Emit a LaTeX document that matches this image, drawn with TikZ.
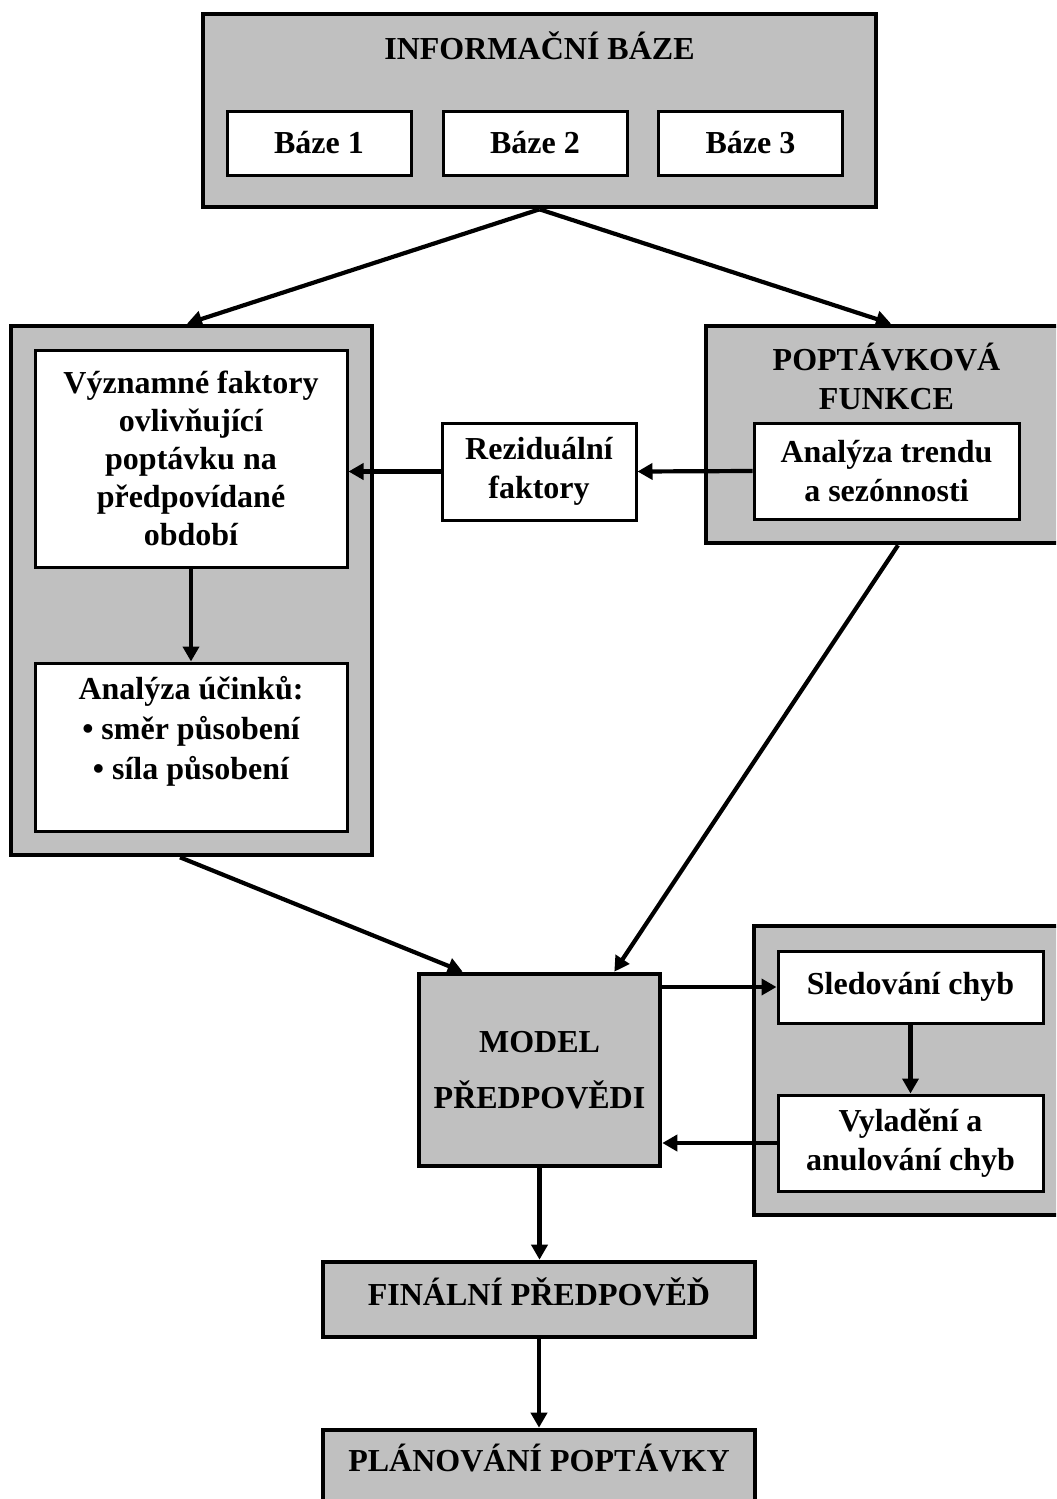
\documentclass[tikz,border=0pt]{standalone}
\usepackage{fontspec}
\setmainfont{Liberation Serif}
\usetikzlibrary{arrows.meta,calc}

\definecolor{boxgray}{HTML}{C0C0C0}

\begin{document}
\begin{tikzpicture}[x=0.5pt,y=-0.5pt,
  every node/.style={font=\bfseries\fontsize{16}{19}\selectfont, align=center, inner sep=0pt},
  graybox/.style={draw, fill=boxgray, line width=2.3pt},
  whitebox/.style={draw, fill=white, line width=1.5pt},
  label/.style={},
  arr/.style={line width=2.1pt, -{Triangle[length=7.5pt,width=8pt]}}
]
\useasboundingbox (0,0) rectangle (1056,1499);
\clip (0,0) rectangle (1056,1499);

% Information base with its three sources
\node[graybox, minimum width=336.5pt, minimum height=96.5pt] (info) at (539.5,110.5) {};
\node[label] (infotitle) at (539.5,46) {INFORMAČNÍ BÁZE};
\node[whitebox, minimum width=92pt, minimum height=32pt] (b1) at (319,143) {Báze 1};
\node[whitebox, minimum width=92pt, minimum height=32pt] (b2) at (535,143) {Báze 2};
\node[whitebox, minimum width=92pt, minimum height=32pt] (b3) at (750.5,143) {Báze 3};

% Factor analysis block
\node[graybox, minimum width=180.5pt, minimum height=264.5pt] (fac) at (191.5,590.5) {};
\node[whitebox, minimum width=156pt, minimum height=108.5pt] (vyz) at (191,458.5)
  {Významné faktory\\ovlivňující\\poptávku na\\předpovídané\\období};
\node[whitebox, minimum width=156pt, minimum height=84pt] (ucin) at (191,747) {};
\node[label, anchor=north, font=\bfseries\fontsize{16}{20}\selectfont] (ucintext) at (191,676)
  {Analýza účinků:\\• směr působení\\• síla působení};

% Residual factors
\node[whitebox, minimum width=97pt, minimum height=48.5pt,
      font=\bfseries\fontsize{16}{19.5}\selectfont] (rez) at (539,471.5)
  {Reziduální\\faktory};

% Demand function block
\node[graybox, minimum width=197pt, minimum height=108.5pt] (pop) at (903,434.5) {};
\node[label, font=\bfseries\fontsize{16}{19.5}\selectfont] (poptitle) at (886.5,376)
  {POPTÁVKOVÁ\\FUNKCE};
\node[whitebox, minimum width=132.5pt, minimum height=48pt,
      font=\bfseries\fontsize{16}{19.5}\selectfont] (trend) at (886.5,471)
  {Analýza trendu\\a sezónnosti};

% Forecast model
\node[graybox, minimum width=120.5pt, minimum height=96pt,
      font=\bfseries\fontsize{16}{28}\selectfont] (model) at (539.5,1070)
  {MODEL\\PŘEDPOVĚDI};

% Error tracking block
\node[graybox, minimum width=173pt, minimum height=144.5pt] (err) at (927,1070.5) {};
\node[whitebox, minimum width=132.5pt, minimum height=36pt] (sled) at (910.5,987)
  {Sledování chyb};
\node[whitebox, minimum width=132.5pt, minimum height=48pt,
      font=\bfseries\fontsize{16}{19.5}\selectfont] (vyl) at (910.5,1143)
  {Vyladění a\\anulování chyb};

% Final forecast and planning
\node[graybox, minimum width=216pt, minimum height=37.5pt,
      text height=13pt, text depth=7pt] (fin) at (539,1299.5)
  {FINÁLNÍ PŘEDPOVĚĎ};
\node[graybox, minimum width=216pt, minimum height=37.5pt,
      text height=12pt, text depth=8pt] (plan) at (539,1467.5)
  {PLÁNOVÁNÍ POPTÁVKY};

% Connectors
\draw[arr] (info.south) -- ([xshift=-2.25pt]fac.north);
\draw[arr] (info.south) -- ([xshift=-6pt]pop.north);
\draw[arr] (vyz.south) -- (ucin.north);
\draw[arr] (trend.west) -- (rez.east);
\draw[arr] (rez.west) -- (vyz.east |- rez.west);
\draw[arr] ([xshift=-5.75pt]fac.south) -- ([xshift=23pt]model.north west);
\draw[arr] ([xshift=-2.5pt]pop.south) -- ([xshift=-24pt]model.north east);
\draw[arr] (model.east |- sled.west) -- (sled.west);
\draw[arr] (sled.south) -- (vyl.north);
\draw[arr] (vyl.west) -- (model.east |- vyl.west);
\draw[arr] (model.south) -- (model.south |- fin.north);
\draw[arr] (fin.south) -- (fin.south |- plan.north);
\end{tikzpicture}
\end{document}
